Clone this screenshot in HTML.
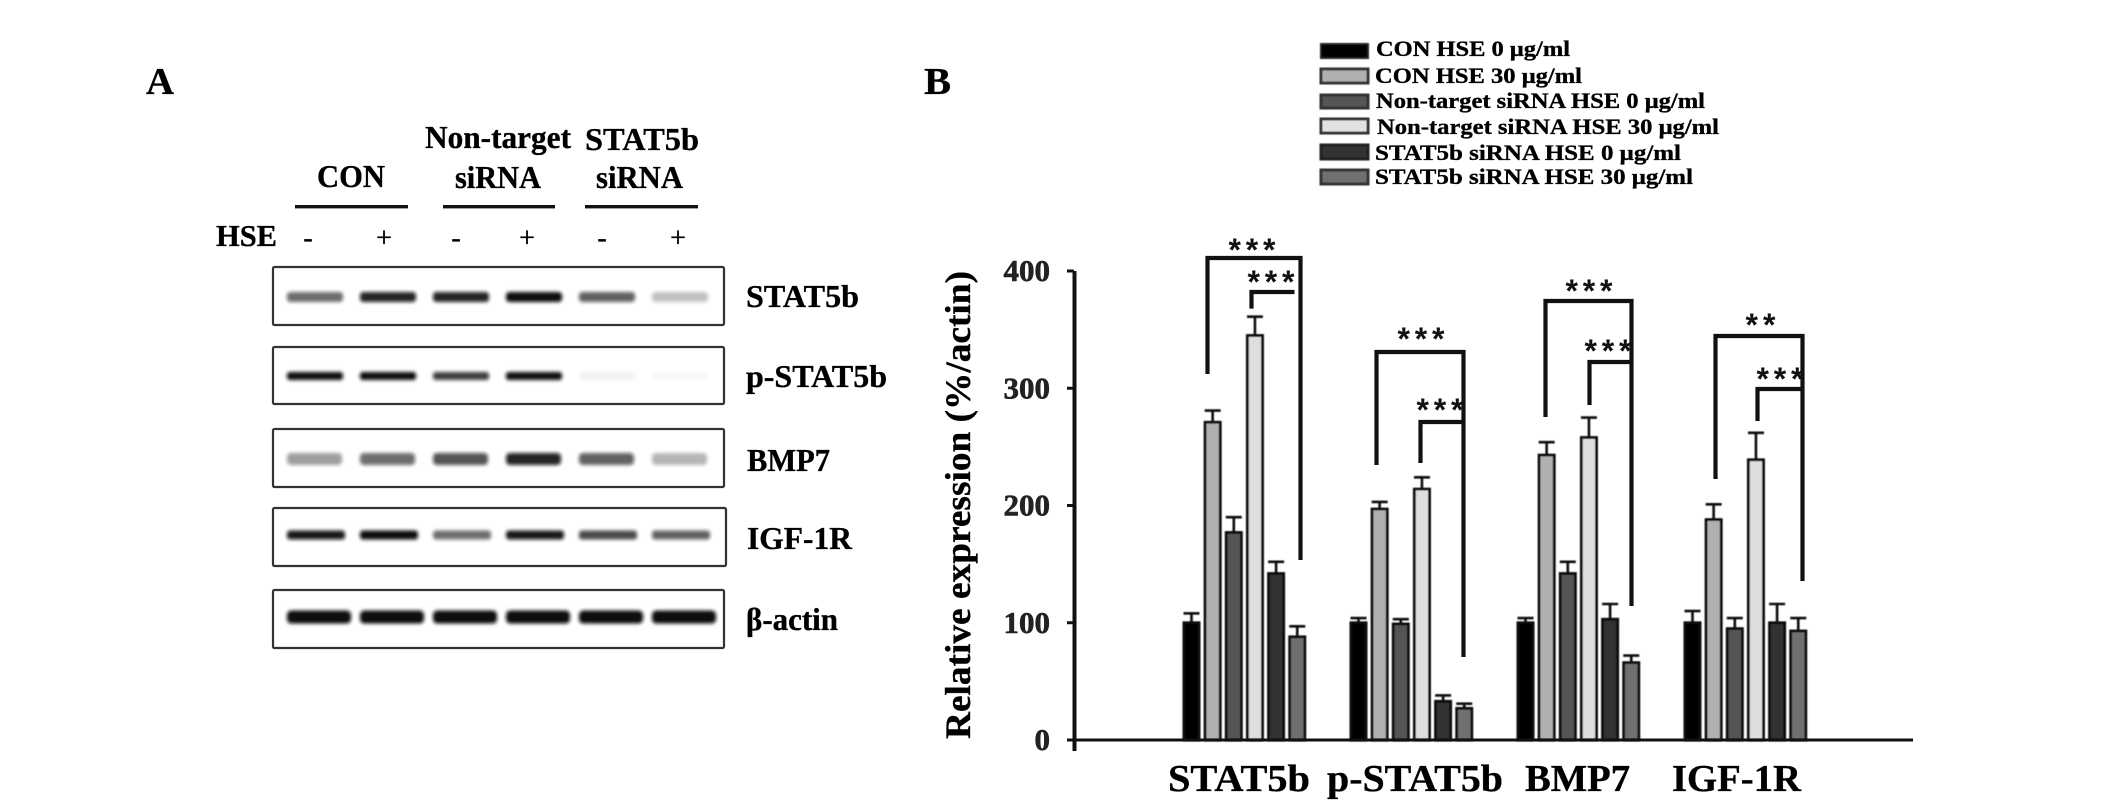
<!DOCTYPE html>
<html lang="en">
<head>
<meta charset="utf-8">
<title>HSE STAT5b western blot and relative expression</title>
<style>
html,body{margin:0;padding:0;background:#fff;}
svg{display:block;}
text{font-family:"Liberation Serif","DejaVu Serif",serif;font-weight:bold;fill:#000;stroke:#000;stroke-width:0.35px;}
.star{font-family:"Liberation Sans",sans-serif;font-size:32px;fill:#111;stroke:none;}
.sign{font-weight:normal;font-size:28px;text-anchor:middle;}
.tick{font-size:31px;fill:#222;stroke:#222;stroke-width:0.6px;text-anchor:end;}
.blot-box{fill:#fff;stroke:#333;stroke-width:2.2;}
.bracket{fill:none;stroke:#111;stroke-width:4.2;stroke-linejoin:miter;}
</style>
</head>
<body>
<svg id="fig" width="2126" height="803" viewBox="0 0 2126 803" xmlns="http://www.w3.org/2000/svg">
<defs>
<filter id="bandBlur" x="-20%" y="-100%" width="140%" height="300%"><feGaussianBlur stdDeviation="1.8"/></filter>
<filter id="softBlur" x="-5%" y="-5%" width="110%" height="110%"><feGaussianBlur stdDeviation="0.6"/></filter>
</defs>
<rect width="2126" height="803" fill="#fff"/>

<!-- Panel A -->
<text x="146" y="94" font-size="38" textLength="28" lengthAdjust="spacingAndGlyphs">A</text>
<text x="425" y="148" font-size="32" textLength="146" lengthAdjust="spacingAndGlyphs">Non-target</text>
<text x="585" y="150" font-size="32" textLength="114" lengthAdjust="spacingAndGlyphs">STAT5b</text>
<text x="317" y="187" font-size="32" textLength="68" lengthAdjust="spacingAndGlyphs">CON</text>
<text x="455" y="188" font-size="32" textLength="86" lengthAdjust="spacingAndGlyphs">siRNA</text>
<text x="596" y="188" font-size="32" textLength="87" lengthAdjust="spacingAndGlyphs">siRNA</text>
<rect x="295" y="205" width="113" height="3.4" fill="#111"/>
<rect x="443" y="205" width="112" height="3.4" fill="#111"/>
<rect x="585" y="205" width="113" height="3.4" fill="#111"/>
<text x="216" y="246" font-size="31" textLength="61" lengthAdjust="spacingAndGlyphs">HSE</text>
<text class="sign" x="308" y="247">-</text>
<text class="sign" x="384" y="247">+</text>
<text class="sign" x="456" y="247">-</text>
<text class="sign" x="527" y="247">+</text>
<text class="sign" x="602" y="247">-</text>
<text class="sign" x="678" y="247">+</text>

<rect class="blot-box" x="273" y="267" width="451" height="58" rx="1.5"/>
<rect class="blot-box" x="273" y="347" width="451" height="57" rx="1.5"/>
<rect class="blot-box" x="273" y="429" width="451" height="58" rx="1.5"/>
<rect class="blot-box" x="273" y="508" width="453" height="58" rx="1.5"/>
<rect class="blot-box" x="273" y="590" width="451" height="58" rx="1.5"/>
<g id="bands"></g>

<text x="746" y="307" font-size="32" textLength="113" lengthAdjust="spacingAndGlyphs">STAT5b</text>
<text x="746" y="387" font-size="32" textLength="141" lengthAdjust="spacingAndGlyphs">p-STAT5b</text>
<text x="747" y="471" font-size="32" textLength="83" lengthAdjust="spacingAndGlyphs">BMP7</text>
<text x="747" y="549" font-size="32" textLength="105" lengthAdjust="spacingAndGlyphs">IGF-1R</text>
<text x="746" y="630" font-size="32" textLength="92" lengthAdjust="spacingAndGlyphs">β-actin</text>

<!-- Panel B -->
<text x="924" y="94" font-size="38" textLength="27" lengthAdjust="spacingAndGlyphs">B</text>

<g filter="url(#softBlur)">
<rect x="1321" y="44" width="47" height="14" fill="#000" stroke="#222" stroke-width="2"/>
<rect x="1321" y="69" width="47" height="14" fill="#b0b0b0" stroke="#333" stroke-width="3"/>
<rect x="1321" y="95" width="47" height="13" fill="#555" stroke="#333" stroke-width="3"/>
<rect x="1321" y="119" width="47" height="14" fill="#e2e2e2" stroke="#333" stroke-width="3"/>
<rect x="1321" y="145" width="47" height="14" fill="#333" stroke="#222" stroke-width="3"/>
<rect x="1321" y="170" width="47" height="14" fill="#707070" stroke="#333" stroke-width="3"/>
</g>
<text x="1376" y="56" font-size="22" textLength="194" lengthAdjust="spacingAndGlyphs">CON HSE 0 μg/ml</text>
<text x="1375" y="83" font-size="22" textLength="207" lengthAdjust="spacingAndGlyphs">CON HSE 30 μg/ml</text>
<text x="1376" y="108" font-size="22" textLength="329" lengthAdjust="spacingAndGlyphs">Non-target siRNA HSE 0 μg/ml</text>
<text x="1377" y="134" font-size="22" textLength="342" lengthAdjust="spacingAndGlyphs">Non-target siRNA HSE 30 μg/ml</text>
<text x="1375" y="160" font-size="22" textLength="306" lengthAdjust="spacingAndGlyphs">STAT5b siRNA HSE 0 μg/ml</text>
<text x="1375" y="184" font-size="22" textLength="318" lengthAdjust="spacingAndGlyphs">STAT5b siRNA HSE 30 μg/ml</text>

<text transform="translate(970,739) rotate(-90)" font-size="36" textLength="468" lengthAdjust="spacingAndGlyphs">Relative expression (%/actin)</text>

<g id="bars"></g>
<g id="axes"></g>

<!-- Significance brackets -->
<path class="bracket" d="M1213 374V258H1306V560" transform="translate(-5.5,0)"/>
<path class="bracket" d="M1257 308.6V292H1300" transform="translate(-5.5,0)"/>
<path class="bracket" d="M1382 465V352H1469V657" transform="translate(-5.5,0)"/>
<path class="bracket" d="M1426 463V422H1469" transform="translate(-5.5,0)"/>
<path class="bracket" d="M1551 417V301H1637V606" transform="translate(-5.5,0)"/>
<path class="bracket" d="M1595 405V362H1637" transform="translate(-5.5,0)"/>
<path class="bracket" d="M1721 479V336H1808V581" transform="translate(-5.5,0)"/>
<path class="bracket" d="M1763 421V389H1808" transform="translate(-5.5,0)"/>

<text class="star" x="1234" y="261" textLength="47" transform="translate(-5.5,0)">***</text>
<text class="star" x="1253" y="293" textLength="47" transform="translate(-5.5,0)">***</text>
<text class="star" x="1403" y="350" textLength="47" transform="translate(-5.5,0)">***</text>
<text class="star" x="1422" y="421" textLength="47" transform="translate(-5.5,0)">***</text>
<text class="star" x="1571" y="302" textLength="47" transform="translate(-5.5,0)">***</text>
<text class="star" x="1590" y="362" textLength="47" transform="translate(-5.5,0)">***</text>
<text class="star" x="1751" y="336" textLength="30" transform="translate(-5.5,0)">**</text>
<text class="star" x="1762" y="390" textLength="47" transform="translate(-5.5,0)">***</text>

<text x="1168" y="791" font-size="38" textLength="142" lengthAdjust="spacingAndGlyphs">STAT5b</text>
<text x="1327" y="791" font-size="38" textLength="176" lengthAdjust="spacingAndGlyphs">p-STAT5b</text>
<text x="1525" y="791" font-size="38" textLength="105" lengthAdjust="spacingAndGlyphs">BMP7</text>
<text x="1672" y="791" font-size="38" textLength="129" lengthAdjust="spacingAndGlyphs">IGF-1R</text>
</svg>

<script>
// Bar chart data
const categories = ['STAT5b', 'p-STAT5b', 'BMP7', 'IGF-1R'];
const seriesNames = ['con-0', 'con-30', 'non-target-0', 'non-target-30', 'stat5b-0', 'stat5b-30'];
const tickValues = [0, 100, 200, 300, 400];
const tickLabels = ['0', '100', '200', '300', '400'];

const con0 = [100, 100, 100, 100];
const con30 = [271, 197, 243, 188];
const nonTarget0 = [177, 99, 142, 95];
const nonTarget30 = [345, 214, 258, 239];
const stat5b0 = [142, 33, 103, 100];
const stat5b30 = [88, 27, 66, 93];

const con0Err = [8, 4, 4, 10];
const con30Err = [10, 6, 11, 13];
const nonTarget0Err = [13, 4, 10, 9];
const nonTarget30Err = [16, 10, 17, 23];
const stat5b0Err = [10, 5, 13, 16];
const stat5b30Err = [9, 4, 6, 11];

// Blot band intensities, one value per lane
const stat5bBands = [0.6, 0.9, 0.9, 1, 0.65, 0.25];
const pStat5bBands = [1, 1, 0.8, 1, 0.05, 0.03];
const bmp7Bands = [0.4, 0.6, 0.7, 0.9, 0.65, 0.3];
const igf1rBands = [0.95, 1, 0.6, 0.95, 0.75, 0.65];
const actinBands = [1, 1, 1, 1, 1, 1];

const NS = 'http://www.w3.org/2000/svg';
const seriesValues = [con0, con30, nonTarget0, nonTarget30, stat5b0, stat5b30];
const seriesErrors = [con0Err, con30Err, nonTarget0Err, nonTarget30Err, stat5b0Err, stat5b30Err];
const seriesFills = ['#000000', '#b0b0b0', '#555555', '#dedede', '#333333', '#707070'];

function yScale(v) { return 740 - v * (740 - 271) / 400; }
function xBar(g, s) { return 1182.5 + g * 167 + s * 21.15; }
function laneX(i) { return 287 + i * 73; }

function make(tag, attrs, parent) {
  const el = document.createElementNS(NS, tag);
  for (const k in attrs) el.setAttribute(k, attrs[k]);
  parent.appendChild(el);
  return el;
}

const barsGroup = document.getElementById('bars');
barsGroup.setAttribute('filter', 'url(#softBlur)');
categories.forEach(function (cat, g) {
  seriesValues.forEach(function (values, s) {
    const v = values[g];
    const err = seriesErrors[s][g];
    const x = xBar(g, s);
    const cx = x + 9;
    const stem = make('line', { x1: cx, x2: cx, y1: yScale(v), y2: yScale(v + err), stroke: '#111', 'stroke-width': 2.6 }, barsGroup);
    
    
    const cap = make('line', { x1: cx - 8, x2: cx + 8, y1: yScale(v + err), y2: yScale(v + err), stroke: '#111', 'stroke-width': 2.6 }, barsGroup);
    
    
    const bar = make('rect', { x: x + 1.4, y: yScale(v), width: 15.2, height: 740 - yScale(v), fill: seriesFills[s], stroke: '#111', 'stroke-width': 2.8 }, barsGroup);
    
    
  });
});

const axesGroup = document.getElementById('axes');
const yAxisLine = make('line', { x1: 1074.5, x2: 1074.5, y1: yScale(400), y2: 751, stroke: '#111', 'stroke-width': 4 }, axesGroup);


const xAxisLine = make('line', { x1: 1067, x2: 1921, y1: 740, y2: 740, stroke: '#111', 'stroke-width': 3 }, axesGroup);
xAxisLine.setAttribute('x2', '1913');


tickValues.forEach(function (t, i) {
  const tick = make('line', { x1: 1067, x2: 1074, y1: yScale(t), y2: yScale(t), stroke: '#111', 'stroke-width': 3 }, axesGroup);
  
  
  const label = make('text', { x: 1050, y: yScale(t) + 10, class: 'tick' }, axesGroup);
  
  
  label.textContent = tickLabels[i];
});

const bandsGroup = document.getElementById('bands');
function drawBlot(name, cy, h, w, intensities) {
  intensities.forEach(function (a, i) {
    const band = make('rect', { x: laneX(i), y: cy - h / 2, width: w, height: h, rx: h / 3, fill: '#0a0a0a', opacity: a, filter: 'url(#bandBlur)' }, bandsGroup);
    
    
  });
}
drawBlot('stat5b', 297, 10, 56, stat5bBands);
drawBlot('p-stat5b', 376, 8, 56, pStat5bBands);
drawBlot('bmp7', 459, 12, 55, bmp7Bands);
drawBlot('igf-1r', 535, 9, 58, igf1rBands);
drawBlot('beta-actin', 617, 13, 64, actinBands);
</script>
</body>
</html>
